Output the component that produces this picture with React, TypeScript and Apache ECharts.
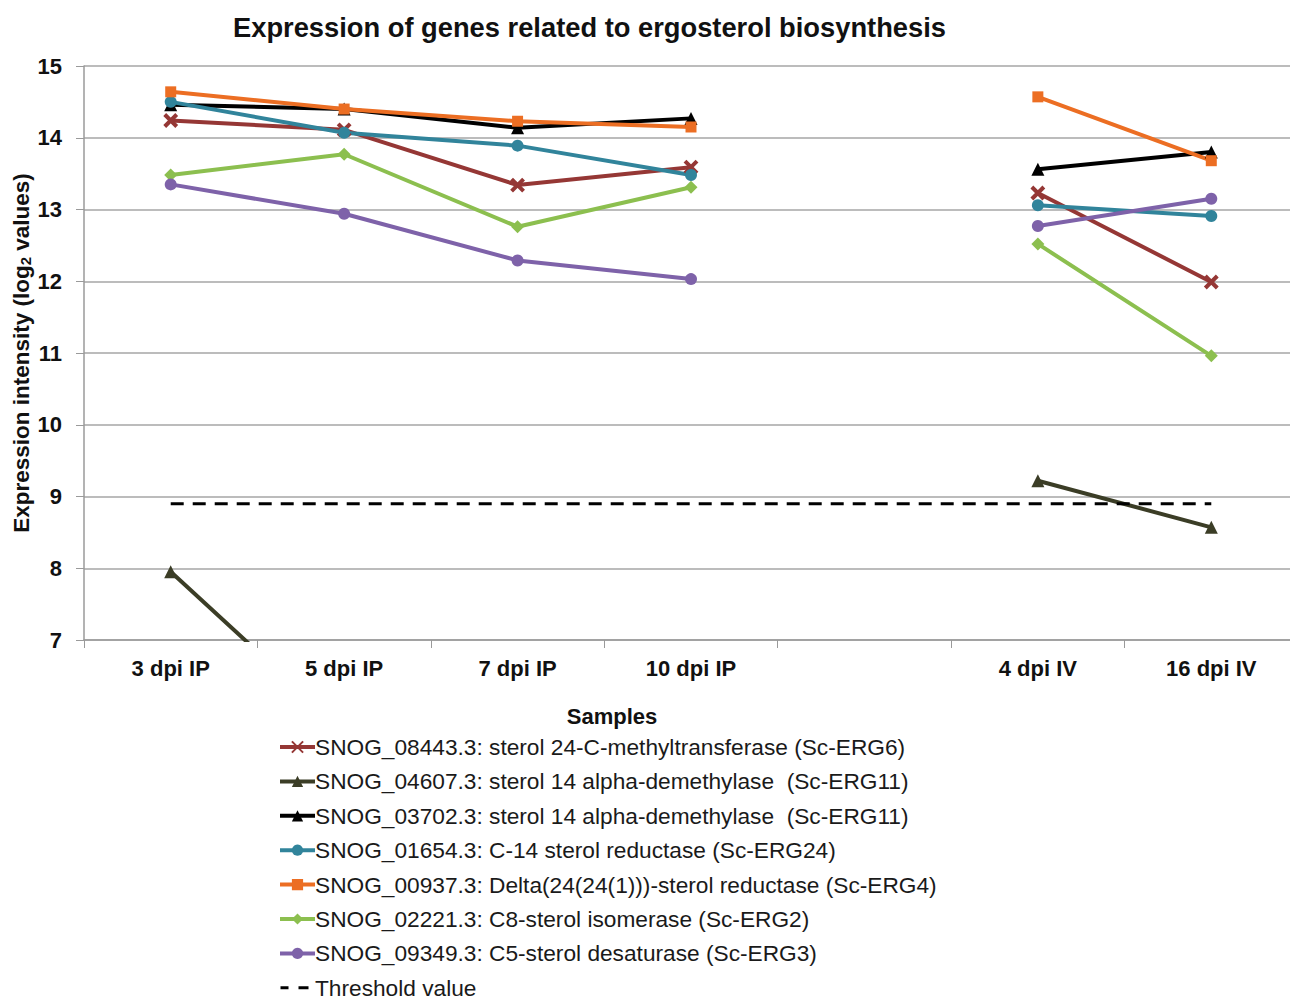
import React, { useEffect, useRef } from "react";
import * as echarts from "echarts";

const categories = ["3 dpi IP", "5 dpi IP", "7 dpi IP", "10 dpi IP", "", "4 dpi IV", "16 dpi IV"];

const erg6_08443 = [14.24, 14.11, 13.34, 13.59, null, 13.23, 11.99];
const erg11_04607 = [7.95, 5.73, 5.6, 5.8, null, 9.22, 8.57];
const erg11_03702 = [14.46, 14.4, 14.14, 14.27, null, 13.56, 13.8];
const erg24_01654 = [14.5, 14.07, 13.89, 13.48, null, 13.06, 12.91];
const erg4_00937 = [14.64, 14.4, 14.23, 14.15, null, 14.57, 13.68];
const erg2_02221 = [13.48, 13.77, 12.76, 13.31, null, 12.52, 10.96];
const erg3_09349 = [13.35, 12.94, 12.29, 12.03, null, 12.77, 13.15];
const threshold = [8.9, 8.9, 8.9, 8.9, 8.9, 8.9, 8.9];

const names = [
  "SNOG_08443.3: sterol 24-C-methyltransferase (Sc-ERG6)",
  "SNOG_04607.3: sterol 14 alpha-demethylase  (Sc-ERG11)",
  "SNOG_03702.3: sterol 14 alpha-demethylase  (Sc-ERG11)",
  "SNOG_01654.3: C-14 sterol reductase (Sc-ERG24)",
  "SNOG_00937.3: Delta(24(24(1)))-sterol reductase (Sc-ERG4)",
  "SNOG_02221.3: C8-sterol isomerase (Sc-ERG2)",
  "SNOG_09349.3: C5-sterol desaturase (Sc-ERG3)",
  "Threshold value",
];

const FONT = "Liberation Sans, Arial, sans-serif";

export default function App() {
  const ref = useRef<HTMLDivElement>(null);
  useEffect(() => {
    if (!ref.current) return;
    const chart = echarts.init(ref.current, undefined, { renderer: "svg" });
    const mk = (name: string, data: any[], color: string, symbol: string, size: number) => ({
      name,
      type: "line",
      data,
      symbol,
      symbolSize: size,
      connectNulls: false,
      clip: true,
      lineStyle: { color, width: 4 },
      itemStyle: { color },
      emphasis: { disabled: true },
    });
    const legendData: any[] = names.slice(0, 7).map((n) => ({ name: n }));
    legendData.push({
      name: names[7],
      icon: "path://M0,0h8v3h-8zM18,0h10v3h-10zM34,-5.5L34,8.5L34,-5.5z",
      itemStyle: { color: "#000000", borderWidth: 0 },
    });
    const option: any = {
      animation: false,
      backgroundColor: "#ffffff",
      textStyle: { fontFamily: FONT },
      title: {
        text: "Expression of genes related to ergosterol biosynthesis",
        left: 233,
        top: 14,
        padding: 0,
        textStyle: { fontFamily: FONT, fontSize: 27.3, fontWeight: "bold", color: "#111" },
      },
      graphic: [
        {
          type: "text",
          x: 612,
          y: 716,
          style: {
            text: "Samples",
            fontFamily: FONT,
            fontSize: 22,
            fontWeight: "bold",
            fill: "#111",
            textAlign: "center",
            textVerticalAlign: "middle",
          },
        },
      ],
      grid: { left: 84, top: 66, width: 1214, height: 574, outerBoundsMode: "none", containLabel: false },
      legend: {
        orient: "vertical",
        left: 278,
        top: 735.5,
        height: 300,
        padding: 0,
        itemWidth: 35,
        itemHeight: 14,
        itemGap: 11.4,
        symbolKeepAspect: true,
        lineStyle: { width: 4 },
        data: legendData,
        textStyle: { fontFamily: FONT, fontSize: 22.7, color: "#1a1a1a", padding: [0, 0, 0, -5] },
      },
      xAxis: {
        type: "category",
        data: categories,
        boundaryGap: true,
        axisLine: { lineStyle: { color: "#9a9a9a", width: 1.5 } },
        axisTick: { show: true, length: 8, lineStyle: { color: "#9a9a9a" } },
        axisLabel: { fontFamily: FONT, fontSize: 22, fontWeight: "bold", color: "#111", margin: 17 },
      },
      yAxis: {
        type: "value",
        min: 7,
        max: 15,
        interval: 1,
        name: "{a|Expression intensity (log}{s|2}{a| values)}",
        nameLocation: "middle",
        nameRotate: 90,
        nameGap: 51,
        nameMoveOverlap: false,
        nameTextStyle: {
          rich: {
            a: { fontFamily: FONT, fontSize: 22.5, fontWeight: "bold", color: "#111" },
            s: { fontFamily: FONT, fontSize: 15, fontWeight: "bold", color: "#111", padding: [8, 0, 0, 0] },
          },
        },
        axisLine: { show: true, lineStyle: { color: "#9a9a9a", width: 1.5 } },
        axisTick: { show: true, length: 8, lineStyle: { color: "#9a9a9a" } },
        splitLine: { show: true, lineStyle: { color: "#a6a6a6", width: 1.5 } },
        axisLabel: { fontFamily: FONT, fontSize: 22, fontWeight: "bold", color: "#111", margin: 22 },
      },
      series: [
        mk(names[0], erg6_08443, "#953735", "path://M-1,-1L1,1M1,-1L-1,1", 12),
        mk(names[1], erg11_04607, "#3b3d26", "triangle", 13),
        mk(names[2], erg11_03702, "#000000", "triangle", 13),
        mk(names[3], erg24_01654, "#31849b", "circle", 12),
        mk(names[4], erg4_00937, "#ec6e23", "rect", 11),
        mk(names[5], erg2_02221, "#8cbf4f", "diamond", 13),
        mk(names[6], erg3_09349, "#7e62a9", "circle", 12),
        {
          name: names[7],
          type: "line",
          data: threshold,
          symbol: "none",
          lineStyle: { color: "#000000", width: 3, type: [13, 9] },
          itemStyle: { color: "#000000" },
          emphasis: { disabled: true },
        },
      ],
    };
    option.series[0].itemStyle = { color: "#953735", borderColor: "#953735", borderWidth: 4 };
    chart.setOption(option);
    return () => chart.dispose();
  }, []);
  return (
    <div
      style={{ position: "absolute", left: 0, top: 0, width: 1290, height: 1001, overflow: "hidden" }}
    >
      <div ref={ref} style={{ width: 1300, height: 1040 }} />
    </div>
  );
}
